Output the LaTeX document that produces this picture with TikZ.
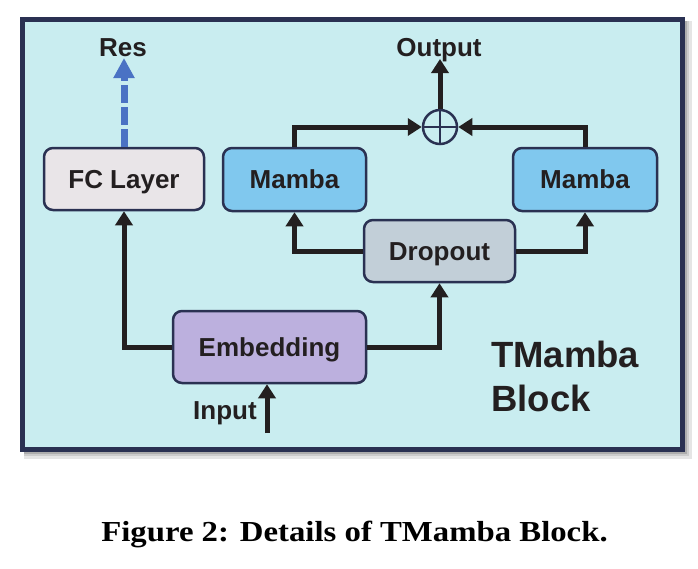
\documentclass[tikz,border=0pt]{standalone}
\usepackage{fontspec}
\setmainfont{Liberation Sans}
\newfontfamily\capfont[FakeStretch=1.13]{Liberation Serif}
\usetikzlibrary{arrows.meta}
\definecolor{frameC}{HTML}{2A3152}
\definecolor{bgC}{HTML}{C9EDF0}
\definecolor{fcC}{HTML}{E9E5E8}
\definecolor{mambaC}{HTML}{80C8EE}
\definecolor{dropC}{HTML}{C2CFD8}
\definecolor{embC}{HTML}{BCB0DE}
\definecolor{txtC}{HTML}{231F20}
\definecolor{resC}{HTML}{4A72C4}
\tikzset{
  boxnode/.style={draw=frameC, line width=2.5pt, rounded corners=9pt, align=center,
    text=txtC, font=\bfseries\fontsize{26}{31}\selectfont, inner sep=0pt,
    text height=18.6pt, text depth=0pt},
  lbl/.style={text=txtC, font=\bfseries\fontsize{26}{31}\selectfont, inner sep=0pt,
    text height=18.6pt, text depth=0pt},
  arr/.style={draw=txtC, line width=5pt, -{Triangle[length=14pt,width=17pt]}},
}
\begin{document}
\begin{tikzpicture}[x=1pt,y=-1pt]
\useasboundingbox (0,0) rectangle (698,568);
\fill[white] (0,0) rectangle (698,568);
% shadow
\fill[black!10] (24,21) rectangle (692,459);
\fill[black!20] (24,21) rectangle (689,456);
\fill[black!32] (24,21) rectangle (687,454);
% frame
\draw[draw=frameC, fill=bgC, line width=5pt] (22.5,19.5) rectangle (682.5,449.5);

% nodes
\node[boxnode, fill=fcC, minimum width=160pt, minimum height=62pt] (fc) at (124,179) {FC Layer};
\node[boxnode, fill=mambaC, minimum width=143pt, minimum height=63pt] (m1) at (294.5,179.5) {Mamba};
\node[boxnode, fill=mambaC, minimum width=144pt, minimum height=63pt] (m2) at (585,179.5) {Mamba};
\node[boxnode, fill=dropC, minimum width=151pt, minimum height=62pt] (drop) at (439.5,251) {Dropout};
\node[boxnode, fill=embC, minimum width=193pt, minimum height=72pt] (emb) at (269.5,347) {Embedding};
\node[circle, draw=frameC, line width=2.5pt, minimum size=34pt, inner sep=0pt] (op) at (440,127) {};
\draw[frameC, line width=2.5pt] (op.north) -- (op.south) (op.west) -- (op.east);

\node[lbl] (res) at (123,47) {Res};
\node[lbl] (out) at (439,47) {Output};
\node[lbl, anchor=base] (inp) at (225,419) {Input};
\node[anchor=base west, text=txtC, font=\bfseries\fontsize{36.5}{44}\selectfont, inner sep=0pt, align=left] (tm) at (491,411) {TMamba\\Block};

\coordinate (restip) at (124,58);
\coordinate (outtip) at (440,59);
\coordinate (inbase) at (267,433);

% connectors
\draw[arr] (emb.west) -| (fc.south);
\draw[arr] (emb.east) -| (drop.south);
\draw[arr] (drop.west) -| (m1.south);
\draw[arr] (drop.east) -| (m2.south);
\draw[arr] (m1.north) |- (op.west);
\draw[arr] (m2.north) |- (op.east);
\draw[arr] (op.north) -- (outtip);
\draw[arr] (inbase) -- (emb.south -| inbase);
\draw[draw=resC, line width=7pt, dash pattern=on 18pt off 4pt, -{Triangle[length=20pt,width=20pt]}] (fc.north) -- (restip);

% caption
\node[anchor=base, text=black, font=\capfont\bfseries\fontsize{29}{34}\selectfont, inner sep=0pt] (cap) at (354.5,541) {Figure 2: Details of TMamba Block.};
\end{tikzpicture}
\end{document}
